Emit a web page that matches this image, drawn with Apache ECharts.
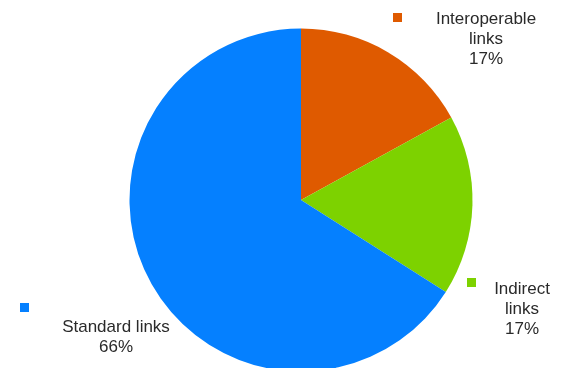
<!DOCTYPE html>
<html>
<head>
<meta charset="utf-8">
<script src="https://cdn.jsdelivr.net/npm/echarts@6/dist/echarts.min.js"></script>
<style>
  html, body { margin: 0; padding: 0; background: #fff; }
  #chart { width: 561px; height: 368px; }
</style>
</head>
<body>
<div id="chart"></div>
<script>
// Link types and their shares (%)
const categories = ['Interoperable links', 'Indirect links', 'Standard links'];
const shares = [17, 17, 66];
const colors = ['#DF5A00', '#7DD200', '#0580FF'];

// Label placement for each slice: marker square and centred text block
const labelSpots = [
  { mx: 393, my: 13, tx: 486, ty: 9, lines: ['Interoperable', 'links'] },
  { mx: 467, my: 278, tx: 522, ty: 279, lines: ['Indirect', 'links'] },
  { mx: 20, my: 303, tx: 116, ty: 317, lines: ['Standard links'] }
];

const chart = echarts.init(document.getElementById('chart'));

const total = shares.reduce((a, b) => a + b, 0);
const graphics = [];
labelSpots.forEach((s, i) => {
  graphics.push({
    type: 'rect', left: s.mx, top: s.my,
    shape: { width: 9, height: 9 },
    style: { fill: colors[i] }
  });
  const pct = Math.round(shares[i] / total * 100) + '%';
  graphics.push({
    type: 'text', x: s.tx, y: s.ty,
    style: {
      text: s.lines.concat([pct]).join('\n'),
      font: '17px "Liberation Sans", Arial, sans-serif',
      fill: '#2a2a2a',
      align: 'center',
      verticalAlign: 'top',
      lineHeight: 20
    }
  });
});

chart.setOption({
  animation: false,
  color: colors,
  series: [{
    type: 'pie',
    center: [301, 200],
    radius: 171.5,
    startAngle: 90,
    clockwise: true,
    label: { show: false },
    labelLine: { show: false },
    emphasis: { disabled: true },
    itemStyle: { borderWidth: 0 },
    data: categories.map((c, i) => ({ name: c, value: shares[i] }))
  }],
  graphic: graphics
});
</script>
</body>
</html>
